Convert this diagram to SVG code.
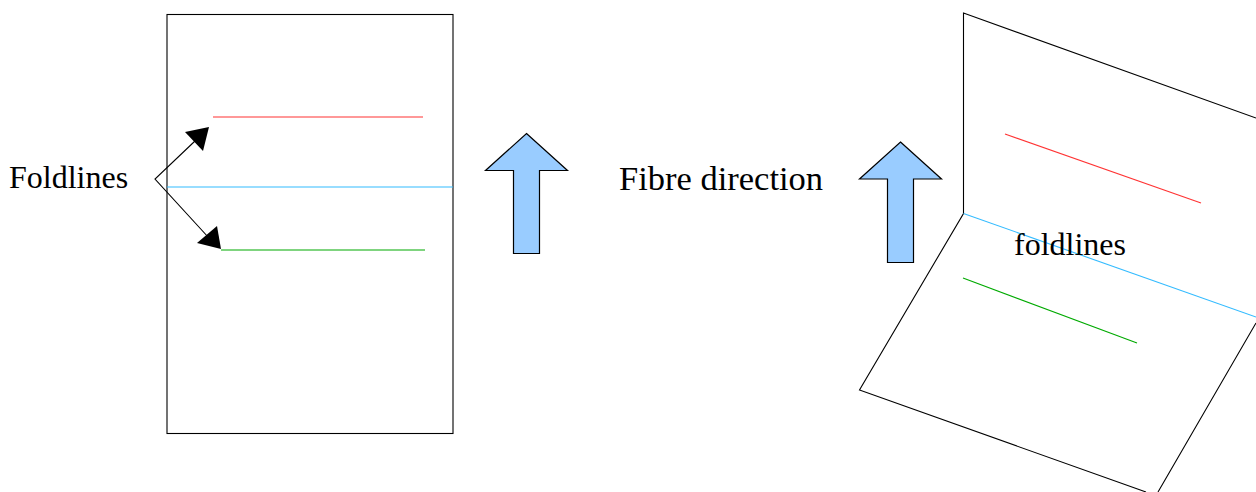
<svg xmlns="http://www.w3.org/2000/svg" width="1256" height="492" viewBox="0 0 1256 492">
<style>
text{font-family:"Liberation Serif","Times New Roman",serif;font-size:32px;fill:#000}
.o{fill:none;stroke:#000;stroke-width:1.1}
.r{fill:none;stroke:#ff3333;stroke-width:1.1}
.b{fill:none;stroke:#33bbff;stroke-width:1.1}
.g{fill:none;stroke:#00aa00;stroke-width:1.1}
.a{fill:#99ccff;stroke:#000;stroke-width:1.2}
.h{fill:#000;stroke:none}
</style>
<rect width="1256" height="492" fill="#fff"/>
<g id="sheet-flat">
<rect class="o" x="167" y="14.500" width="286" height="419"/>
<path class="r" d="M213 117H423"/>
<path class="b" d="M167 187H453"/>
<path class="g" d="M221 250H425"/>
</g>
<g id="sheet-folded">
<path class="o" d="M1256 118L963.500 13V213.500L859.500 390L1146 492M1256 323L1158 492"/>
<path class="r" d="M1005 134L1201 203"/>
<path class="b" d="M963.500 213.500L1256 317"/>
<path class="g" d="M963 278L1137 343"/>
</g>
<g id="arrow-left"><path class="a" d="M526.500 133.500L567.500 170.500H539.500V253.500H513.500V170.500H485.500Z"/></g>
<g id="arrow-right"><path class="a" d="M900.500 142L941.500 179H913.500V262.500H887.500V179H859.500Z"/></g>
<g id="label-foldlines-left"><text x="9" y="188">Foldlines</text></g>
<g id="label-fibre"><text x="619" y="190" style="font-size:34.500px">Fibre direction</text></g>
<g id="label-foldlines-right"><text x="1014" y="255">foldlines</text></g>
<g id="connectors">
<path class="o" d="M195 141L155 179L209 238"/>
<path class="h" d="M209 127L185 132L203 151Z"/>
<path class="h" d="M221 249L217 226L197 243Z"/>
</g>
</svg>
